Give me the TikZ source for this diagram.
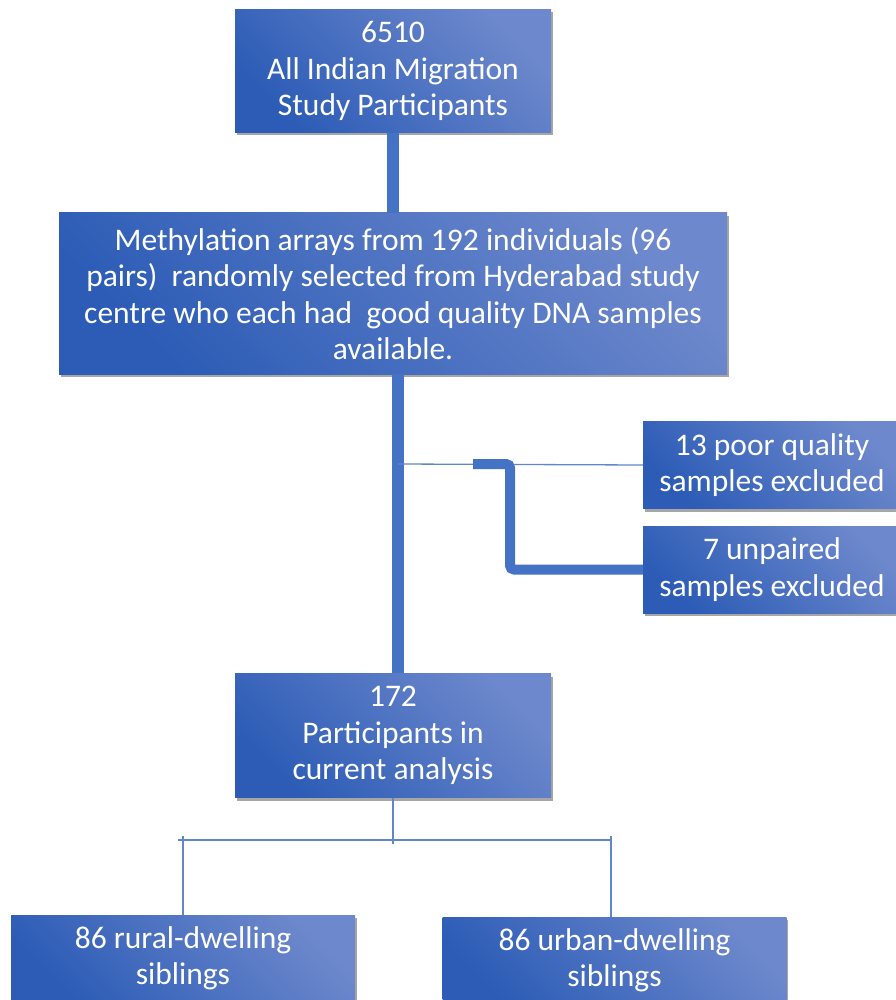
\documentclass[tikz,border=0pt]{standalone}
\usepackage{fontspec}
\setmainfont{Carlito}
\usetikzlibrary{shadows}
\definecolor{boxdark}{HTML}{2C5CB6}
\definecolor{boxlight}{HTML}{6D88CC}
\definecolor{linkblue}{HTML}{4472C4}
\tikzset{
  flowbox/.style={rectangle, top color=boxlight, bottom color=boxdark, shading angle=-45,
    text=white, align=center, inner sep=0pt, font=\fontsize{31.5}{36.5}\selectfont,
    drop shadow={shadow xshift=1.5pt, shadow yshift=-3pt, opacity=0.35, fill=black}},
  thickline/.style={draw=linkblue, line width=12pt},
  thinline/.style={draw=linkblue!85, line width=1.3pt}
}
\begin{document}
\begin{tikzpicture}[x=1pt, y=-1pt]
            \useasboundingbox (0,0) rectangle (895,1000);
            % boxes
            \node[flowbox, minimum width=316pt, minimum height=123pt] (all) at (393,71) {6510\\All Indian Migration\\Study Participants};
            \node[flowbox, minimum width=668pt, minimum height=161pt] (meth) at (393,293.5) {Methylation arrays from 192 individuals (96\\pairs)\ \ randomly selected from Hyderabad study\\centre who each had\ \ good quality DNA samples\\available.};
            \node[flowbox, minimum width=258pt, minimum height=87pt] (poor) at (772,465) {13 poor quality\\samples excluded};
            \node[flowbox, minimum width=258pt, minimum height=87pt] (unpaired) at (772,569.5) {7 unpaired\\samples excluded};
            \node[flowbox, minimum width=316pt, minimum height=124pt] (current) at (393,735.5) {172\\Participants in\\current analysis};
            \node[flowbox, minimum width=344pt, minimum height=87pt] (rural) at (183,958.5) {86 rural-dwelling\\siblings};
            \node[flowbox, minimum width=344pt, minimum height=87pt] (urban) at (614.5,960.5) {86 urban-dwelling\\siblings};

            % main trunk
            \draw[thickline] (all.south) -- (meth.north);
            \draw[thickline] ([xshift=5pt]meth.south) -- ([xshift=5pt]current.north);

            % exclusions
            \coordinate (bend) at (510,0);
            \draw[thinline] (398,464) -- (poor.west);
            \draw[thickline, line width=10pt, rounded corners=4pt] (473,464) -| (unpaired.west -| bend) -- (unpaired.west);

            % split into siblings
            \draw[thinline] (current.south) -- ++(0,46);
            \draw[thinline] (178,840) -- (612,840);
            \draw[thinline] (rural.north) -- ++(0,-79);
            \draw[thinline] ([xshift=-3.5pt]urban.north) -- ++(0,-81);
\end{tikzpicture}
\end{document}
